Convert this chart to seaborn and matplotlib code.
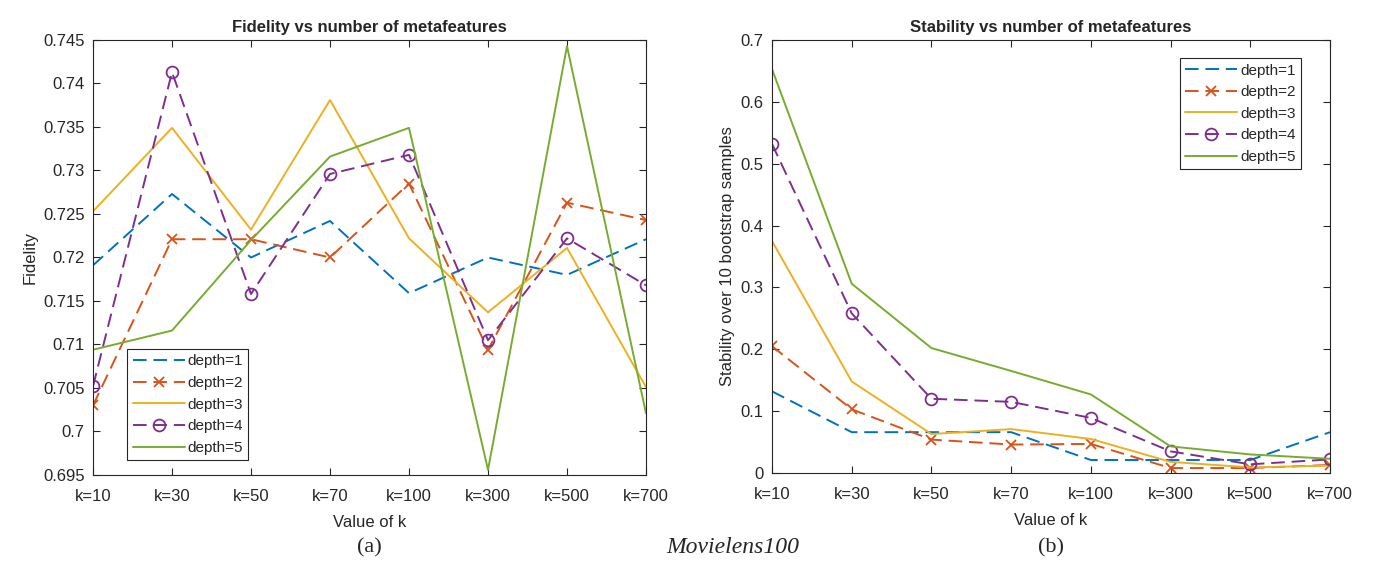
import numpy as np
import pandas as pd
import seaborn as sns
import matplotlib.pyplot as plt
from matplotlib.ticker import FuncFormatter, MultipleLocator


# Categorías (eje x) y series
k_labels = ["k=10", "k=30", "k=50", "k=70", "k=100", "k=300", "k=500", "k=700"]
depths = ["depth=1", "depth=2", "depth=3", "depth=4", "depth=5"]

fidelity_d1 = [0.7191, 0.7273, 0.7200, 0.7242, 0.7159, 0.7200, 0.7180, 0.7221]
fidelity_d2 = [0.7030, 0.7221, 0.7221, 0.7200, 0.7285, 0.7094, 0.7263, 0.7243]
fidelity_d3 = [0.7253, 0.7349, 0.7232, 0.7381, 0.7222, 0.7137, 0.7211, 0.7051]
fidelity_d4 = [0.7052, 0.7413, 0.7158, 0.7296, 0.7318, 0.7105, 0.7222, 0.7168]
fidelity_d5 = [0.7094, 0.7116, 0.7220, 0.7316, 0.7349, 0.6956, 0.7443, 0.7021]

stability_d1 = [0.132, 0.066, 0.066, 0.066, 0.021, 0.021, 0.021, 0.066]
stability_d2 = [0.205, 0.103, 0.054, 0.046, 0.047, 0.008, 0.008, 0.013]
stability_d3 = [0.375, 0.148, 0.063, 0.071, 0.055, 0.018, 0.009, 0.012]
stability_d4 = [0.532, 0.258, 0.120, 0.115, 0.089, 0.035, 0.014, 0.022]
stability_d5 = [0.653, 0.306, 0.202, 0.165, 0.127, 0.043, 0.030, 0.023]

# Colores por defecto de MATLAB
colores = ["#0072BD", "#D95319", "#EDB120", "#7E2F8E", "#77AC30"]
guion = (0, (7, 3.5))
estilos = [guion, guion, "-", guion, "-"]
marcadores = [None, "x", None, "o", None]

fidelity = [fidelity_d1, fidelity_d2, fidelity_d3, fidelity_d4, fidelity_d5]
stability = [stability_d1, stability_d2, stability_d3, stability_d4, stability_d5]

# Tabla larga para seaborn
filas = []
for depth, fid, stab in zip(depths, fidelity, stability):
    for pos, (f, s) in enumerate(zip(fid, stab)):
        filas.append({"depth": depth, "pos": pos, "fidelity": f, "stability": s})
datos = pd.DataFrame(filas)

sns.set_style("white")
plt.rcParams["font.family"] = ["Liberation Sans", "DejaVu Sans"]

gris = "#262626"

fig = plt.figure(figsize=(13.91, 5.74), dpi=100)
ax1 = fig.add_axes([93 / 1391, 99 / 574, 553 / 1391, 435 / 574])
ax2 = fig.add_axes([772 / 1391, 101 / 574, 558 / 1391, 433 / 574])


def dibujar(ax, columna):
    for depth, color, estilo, marcador in zip(depths, colores, estilos, marcadores):
        sub = datos[datos["depth"] == depth]
        sns.lineplot(
            data=sub,
            x="pos",
            y=columna,
            ax=ax,
            color=color,
            linestyle=estilo,
            linewidth=1.4,
            marker=marcador,
            markersize=8.5 if marcador == "o" else 7,
            markerfacecolor="none" if marcador == "o" else color,
            markeredgecolor=color,
            markeredgewidth=1.3,
            label=depth,
            errorbar=None,
        )

    ax.set_xlim(0, len(k_labels) - 1)
    ax.set_xticks(range(len(k_labels)))
    ax.set_xticklabels(k_labels)
    ax.yaxis.set_major_formatter(FuncFormatter(lambda v, p: f"{v:g}"))

    for lado in ax.spines.values():
        lado.set_visible(True)
        lado.set_color(gris)
        lado.set_linewidth(0.8)
    ax.tick_params(
        direction="in", length=5, width=0.8, colors=gris, labelsize=12,
        top=True, right=True, bottom=True, left=True, pad=6,
    )
    ax.tick_params(axis="x", pad=10)
    ax.set_xlabel("Value of k", fontsize=12, color=gris, labelpad=8)


dibujar(ax1, "fidelity")
ax1.set_ylim(0.695, 0.745)
ax1.yaxis.set_major_locator(MultipleLocator(0.005))
ax1.set_ylabel("Fidelity", fontsize=12, color=gris)
ax1.set_title("Fidelity vs number of metafeatures", fontsize=12,
              fontweight="bold", pad=6)

dibujar(ax2, "stability")
ax2.set_ylim(0, 0.7)
ax2.yaxis.set_major_locator(MultipleLocator(0.1))
ax2.set_ylabel("Stability over 10 bootstrap samples", fontsize=12, color=gris)
ax2.set_title("Stability vs number of metafeatures", fontsize=12,
              fontweight="bold", pad=6)

leyenda_kw = dict(
    fontsize=11, handlelength=3.4, handletextpad=0.2, labelspacing=0.5,
    borderpad=0.35, fancybox=False, framealpha=1, edgecolor=gris,
    numpoints=1, borderaxespad=0,
)
leg1 = ax1.legend(loc="lower left", bbox_to_anchor=(0.062, 0.034), **leyenda_kw)
leg2 = ax2.legend(loc="upper right", bbox_to_anchor=(0.948, 0.958), **leyenda_kw)
for leg in (leg1, leg2):
    leg.get_frame().set_linewidth(0.8)

# Pies de figura
fig.text(369.5 / 1391, 0.046, "(a)", family="Liberation Serif", fontsize=16,
         ha="center", va="center")
fig.text(733 / 1391, 0.046, "Movielens100", family="Liberation Serif",
         style="italic", fontsize=17, ha="center", va="center")
fig.text(1051 / 1391, 0.046, "(b)", family="Liberation Serif", fontsize=16,
         ha="center", va="center")

fig.savefig("out.png", dpi=100)
